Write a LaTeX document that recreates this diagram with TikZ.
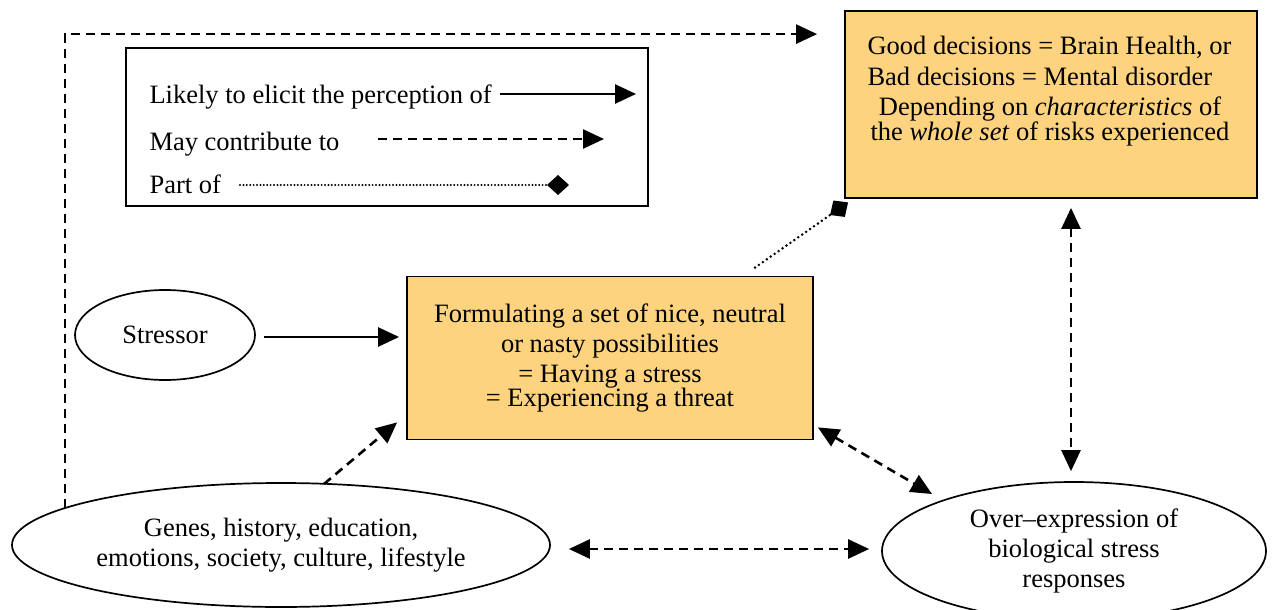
\documentclass[tikz,border=0pt]{standalone}
\usepackage{fontspec}
\setmainfont{Liberation Serif}
\usetikzlibrary{arrows.meta,shapes.geometric}
\definecolor{boxfill}{RGB}{253,211,127}
\begin{document}
\begin{tikzpicture}[x=1pt,y=-1pt,
  every node/.style={font=\fontsize{26.5}{30}\selectfont},
  box/.style={draw, line width=1.8pt, fill=boxfill, inner sep=0pt},
  legendbox/.style={draw, line width=1.8pt, inner sep=0pt},
  oval/.style={draw, ellipse, line width=1.7pt, inner sep=0pt, align=center},
  onetip/.style={-{Triangle[length=21pt,width=19pt]}},
  twotips/.style={{Triangle[length=21pt,width=19pt]}-{Triangle[length=21pt,width=19pt]}},
  diamondtip/.style={-{Diamond[length=22pt,width=20pt]}},
  solidline/.style={line width=2.6pt},
  dashline/.style={line width=2.6pt, dash pattern=on 9pt off 6pt},
  dotline/.style={line width=2.8pt, dash pattern=on 0pt off 4.8pt, line cap=round},
  finedot/.style={line width=2.2pt, dash pattern=on 0pt off 3.4pt, line cap=round}
]
\useasboundingbox (0,0) rectangle (1272,610);

% legend
\node[legendbox, minimum width=522pt, minimum height=158pt] (legend) at (387,127) {};
\node[anchor=base west] (l1) at (146,103) {Likely to elicit the perception of};
\node[anchor=base west] (l2) at (146,150) {May contribute to};
\node[anchor=base west] (l3) at (146,193) {Part of};
\coordinate (a1s) at (500,94);
\coordinate (a1e) at (636,94);
\coordinate (a2s) at (378,139);
\coordinate (a2e) at (604,139);
\coordinate (a3s) at (240,185);
\coordinate (a3e) at (569,185);
\draw[solidline, onetip] (a1s) -- (a1e);
\draw[dashline, onetip] (a2s) -- (a2e);
\draw[finedot, diamondtip] (a3s) -- (a3e);

% top box
\node[box, minimum width=412pt, minimum height=187pt] (top) at (1051,104.5) {};
\node[anchor=base west] (t1) at (864,55) {Good decisions = Brain Health, or};
\node[anchor=base west] (t2) at (864,85) {Bad decisions = Mental disorder};
\node[anchor=base] (t3) at (1050,115) {Depending on \textit{characteristics} of};
\node[anchor=base] (t4) at (1050,140) {the \textit{whole set} of risks experienced};

% middle box
\node[box, minimum width=406pt, minimum height=163pt, align=center] (mid) at (610,358)
  {Formulating a set of nice, neutral\\or nasty possibilities\\= Having a stress\\[-6pt]= Experiencing a threat};

% ellipses
\node[oval, minimum width=180pt, minimum height=90pt] (stressor) at (165,335) {Stressor};
\node[oval, minimum width=538pt, minimum height=124pt] (genes) at (281,545)
  {Genes, history, education,\\emotions, society, culture, lifestyle};
\node[oval, minimum width=384pt, minimum height=138pt] (over) at (1074,551)
  {Over--expression of\\biological stress\\responses};

% connectors
\draw[solidline, onetip] ([shift={(8,2)}]stressor.east) -- ([shift={(-7,-21)}]mid.west);
\draw[dashline, onetip] ([shift={(43,-61)}]genes.center) -- ([shift={(-9,-18)}]mid.south west);
\draw[dashline, onetip] ([shift={(-216,-37)}]genes.center) |- ([shift={(-27,24)}]top.north west);
\draw[dashline, twotips] ([shift={(18,4)}]genes.east) -- ([shift={(-12,-2)}]over.west);
\draw[dashline, twotips] ([shift={(4,-13)}]mid.south east) -- ([shift={(-142,-57)}]over.center);
\draw[dashline, twotips] ([shift={(20,9)}]top.south) -- ([shift={(-3,-10)}]over.north);
\draw[dotline, diamondtip] ([shift={(145,-8)}]mid.north) -- ([shift={(4,3.5)}]top.south west);
\end{tikzpicture}
\end{document}
